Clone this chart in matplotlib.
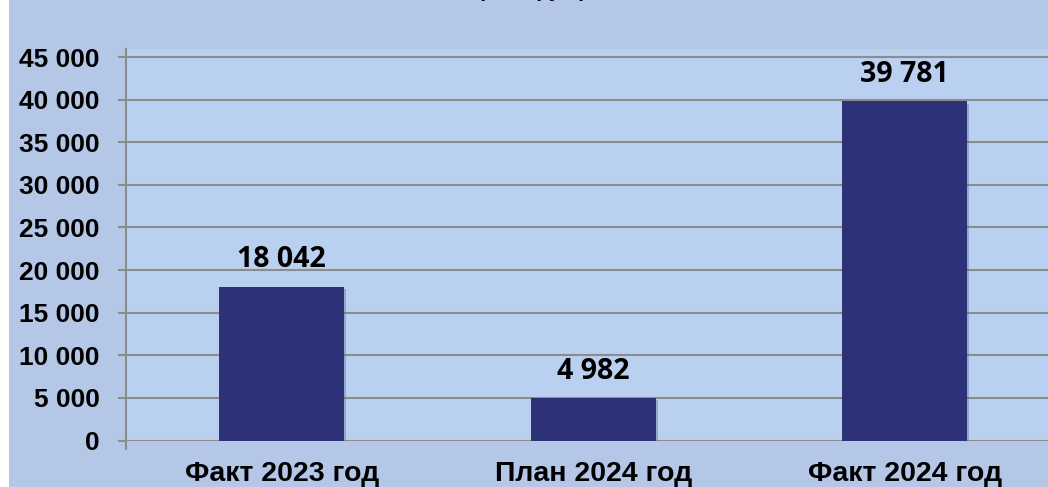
import matplotlib.pyplot as plt
import matplotlib.patheffects as pe
from matplotlib.patches import Rectangle

# ---------------------------
# Data
# ---------------------------
categories = ["Факт 2023 год", "План 2024 год", "Факт 2024 год"]
values = [18042, 4982, 39781]
value_labels = ["18 042", "4 982", "39 781"]
y_ticks = [0, 5000, 10000, 15000, 20000, 25000, 30000, 35000, 40000, 45000]
y_tick_labels = ["0", "5 000", "10 000", "15 000", "20 000", "25 000",
                 "30 000", "35 000", "40 000", "45 000"]

W, H = 1048, 487
fig = plt.figure(figsize=(W / 100, H / 100), dpi=100)
fig.patch.set_facecolor("white")

# outer blue panel (thin white strip on the left)
fig.patches.append(Rectangle((9 / W, 0), 1, 1, transform=fig.transFigure,
                             facecolor="#B4C7E7", edgecolor="none", zorder=-10))

# plot area
ax = fig.add_axes([126 / W, (H - 440.5) / H, 934.5 / W, (440.5 - 49) / H])
ax.set_facecolor("#BAD0F0")

x = range(len(categories))
bars = ax.bar(x, values, width=0.4, color="#2D3178", zorder=3)
for b in bars:
    b.set_path_effects([pe.SimplePatchShadow(offset=(1.5, -1.5), shadow_rgbFace="#50607F", alpha=0.35),
                        pe.Normal()])

for i, v in enumerate(values):
    ax.annotate(value_labels[i], (i, v), xytext=(0, 14), textcoords="offset points",
                ha="center", va="baseline", fontsize=20.5, fontweight="bold",
                family="Open Sans", color="black")

ax.set_xlim(-0.5, 2.5)
ax.set_ylim(0, 45000 * (440.5 - 49) / (440.5 - 57))
ax.set_yticks(y_ticks)
ax.set_yticklabels(y_tick_labels, fontsize=19, fontweight="bold", family="Liberation Sans")
ax.set_xticks(list(x))
ax.set_xticklabels(categories, fontsize=20.5, fontweight="bold", family="Liberation Sans")
ax.tick_params(axis="x", length=0, pad=15)
ax.tick_params(axis="y", length=6, width=1.5, color="#8C8C8C", pad=13)
ax.grid(axis="y", color="#8C8C8C", linewidth=1.5, zorder=1)

for s in ["top", "right", "bottom"]:
    ax.spines[s].set_visible(False)
ax.spines["left"].set_color("#8C8C8C")
ax.spines["left"].set_linewidth(1.5)
ax.spines["left"].set_bounds(-45000 * 8 / 383, 45000 * (440.5 - 49) / (440.5 - 57))

# cut-off title at the very top
fig.text(532 / W, 1 + 3 / H, "(тыс. руб.)", ha="center", va="baseline",
         fontsize=15, fontweight="bold", family="Liberation Sans")

plt.savefig("out.png", dpi=100)
